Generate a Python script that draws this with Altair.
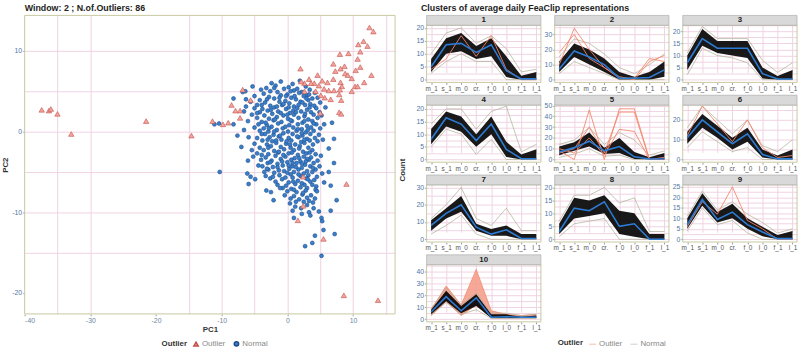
import altair as alt
import pandas as pd

# ---------------- data: PCA scatter ----------------
NORMAL_PTS = [
    (-1.0, 6.2), (0.8, 5.9), (-2.4, 6.0), (1.9, 6.3),
    (-5.3, 5.6), (-3.2, 5.4), (-1.8, 5.7), (0.2, 5.5), (1.5, 5.3), (2.8, 5.6),
    (-4.0, 5.2), (-2.6, 5.0), (-0.5, 5.3), (1.0, 5.1), (2.2, 4.9), (3.4, 5.2),
    (-6.8, 4.9), (-3.6, 4.7), (-1.5, 4.9), (0.0, 4.6), (1.8, 4.8), (3.0, 4.5), (4.2, 4.8),
    (-5.0, 4.4), (-2.8, 4.3), (-1.0, 4.5), (0.6, 4.2), (2.5, 4.4), (3.8, 4.1),
    (-8.2, 4.1), (-6.3, 4.0), (-4.2, 3.9), (-2.0, 4.1), (-0.3, 3.8), (1.3, 4.0), (3.2, 3.9), (4.6, 4.2),
    (-5.6, 3.7), (-3.4, 3.6), (-1.2, 3.7), (0.3, 3.5), (2.0, 3.7), (3.5, 3.4), (5.0, 3.6),
    (-6.3, 3.1), (-4.6, 3.3), (-2.6, 3.2), (-0.8, 3.3), (1.0, 3.1), (2.7, 3.3), (4.1, 3.2),
    (-5.0, 2.9), (-3.8, 2.8), (-2.0, 3.0), (-0.2, 2.8), (1.5, 2.9), (3.0, 2.7), (4.4, 2.9), (5.8, 3.0),
    (-6.6, 2.5), (-4.2, 2.4), (-3.0, 2.6), (-1.4, 2.5), (0.4, 2.3), (2.1, 2.5), (3.6, 2.4),
    (-5.4, 2.1), (-3.5, 2.0), (-2.3, 2.2), (-0.6, 2.0), (1.0, 2.1), (2.6, 1.9), (4.0, 2.1), (5.2, 2.0),
    (-4.6, 1.7), (-2.8, 1.6), (-1.6, 1.8), (0.1, 1.6), (1.7, 1.7), (3.2, 1.5), (4.6, 1.7),
    (-6.0, 1.3), (-3.9, 1.2), (-2.1, 1.4), (-0.9, 1.2), (0.7, 1.3), (2.3, 1.1), (3.8, 1.3),
    (-10.4, 1.0), (-11.1, 0.9), (-8.2, 0.9), (-4.4, 0.9), (-3.1, 0.8), (-1.4, 1.0), (0.3, 0.8),
    (1.6, 0.9), (3.0, 0.7), (4.4, 0.9), (6.8, 1.1),
    (-5.0, 0.5), (-3.6, 0.4), (-2.4, 0.6), (-0.7, 0.4), (0.9, 0.5), (2.2, 0.3), (3.6, 0.5), (5.0, 0.4),
    (-4.2, 0.1), (-2.9, 0.0), (-1.6, 0.2), (0.1, 0.0), (1.4, 0.1), (2.8, -0.1), (4.0, 0.1),
    (-5.9, -0.7), (-3.4, -0.3), (-2.1, -0.4), (-0.6, -0.2), (0.8, -0.3), (2.3, -0.5), (3.5, -0.3), (4.8, -0.4),
    (-4.6, -0.8), (-2.7, -0.7), (-1.3, -0.6), (0.2, -0.8), (1.7, -0.7), (3.0, -0.9), (7.1, -0.9),
    (-3.8, -1.1), (-2.3, -1.2), (-0.9, -1.0), (0.6, -1.1), (2.1, -1.3), (3.4, -1.1), (4.6, -1.2),
    (-5.0, -1.5), (-3.1, -1.6), (-1.7, -1.4), (-0.2, -1.5), (1.2, -1.6), (2.6, -1.4), (3.9, -1.6),
    (-7.0, -1.9), (-4.2, -2.0), (-2.5, -1.8), (-1.0, -1.9), (0.5, -2.0), (1.9, -1.8), (3.2, -2.0), (6.3, -2.1),
    (-3.6, -2.3), (-2.0, -2.4), (-0.5, -2.2), (1.0, -2.3), (2.4, -2.5), (3.8, -2.3),
    (-4.6, -2.7), (-2.9, -2.8), (-1.4, -2.6), (0.2, -2.7), (1.6, -2.9), (2.9, -2.7), (4.3, -2.8),
    (-5.2, -3.1), (-3.3, -3.2), (-1.8, -3.0), (-0.3, -3.1), (1.1, -3.3), (2.5, -3.1), (3.6, -3.2),
    (-4.0, -3.5), (-2.4, -3.6), (-1.0, -3.4), (0.6, -3.5), (2.0, -3.7), (3.3, -3.5), (4.6, -3.6),
    (-3.0, -3.9), (-1.5, -4.0), (0.0, -3.8), (1.4, -3.9), (2.7, -4.1), (4.0, -3.9), (7.1, -3.9),
    (-3.8, -4.3), (-2.2, -4.4), (-0.7, -4.2), (0.8, -4.3), (2.2, -4.5), (3.5, -4.3),
    (-2.9, -4.7), (-1.3, -4.8), (0.3, -4.6), (1.7, -4.7), (3.0, -4.9), (4.3, -4.7),
    (-10.3, -5.0), (-6.1, -5.2), (-3.5, -5.0), (-2.0, -5.1), (-0.5, -4.9), (1.0, -5.0), (2.5, -5.2),
    (3.8, -5.0), (6.3, -5.0),
    (-5.6, -5.6), (-3.3, -5.5), (-1.2, -5.4), (0.5, -5.3), (2.0, -5.5), (3.2, -5.4), (4.5, -5.6),
    (-2.6, -5.8), (-0.8, -5.9), (0.8, -5.7), (2.9, -5.8), (4.1, -6.0),
    (-5.9, -6.5), (-1.8, -6.2), (0.2, -6.3), (1.6, -6.1), (3.5, -6.2),
    (-1.5, -6.6), (-0.2, -6.7), (1.2, -6.5), (2.6, -6.6), (4.4, -6.8), (6.6, -6.7),
    (-0.7, -7.0), (0.6, -7.1), (2.0, -6.9), (3.0, -7.0), (4.3, -7.2),
    (-3.2, -7.3), (-2.5, -7.5), (0.0, -7.4), (1.4, -7.5), (2.8, -7.3), (4.5, -7.4),
    (-0.4, -7.9), (1.0, -8.0), (2.3, -7.8), (3.6, -7.9),
    (0.5, -8.3), (1.8, -8.4), (3.0, -8.2), (4.2, -8.3),
    (-2.1, -8.5), (2.5, -8.7), (3.9, -8.8), (7.5, -8.5),
    (0.4, -8.9), (1.2, -9.3), (3.0, -9.1),
    (0.8, -9.8), (3.3, -10.0), (4.8, -9.9), (6.6, -9.8),
    (2.2, -10.2), (3.5, -10.4), (1.0, -10.7), (5.2, -10.7), (5.3, -11.1),
    (5.5, -12.2), (4.2, -12.9), (7.2, -12.7), (3.8, -13.8), (2.7, -14.2), (5.2, -15.4),
    (-2.0, 5.4), (0.5, 5.0), (-1.2, 4.2), (1.1, 4.4), (2.9, 4.1), (-3.1, 4.0), (-0.6, 3.4),
    (1.7, 3.3), (3.4, 3.0), (-2.5, 2.7), (0.9, 2.6), (2.7, 2.2), (-1.0, 2.3), (-4.6, 2.3),
    (-1.9, 1.5), (0.5, 1.4), (2.6, 1.3), (4.0, 1.0), (-3.3, 1.1), (-0.3, 0.6), (1.6, 0.3),
    (3.1, 0.2), (-2.0, 0.0), (-3.9, -0.3), (-1.1, -0.5), (1.5, -0.6), (2.6, -1.0), (4.2, -0.8),
    (-3.0, -1.0), (-0.1, -1.2), (1.8, -2.1), (-2.9, -2.0), (-1.3, -2.5), (0.7, -2.6), (3.4, -2.6),
    (-3.9, -2.9), (-0.6, -2.9), (1.8, -3.3), (3.0, -3.4), (-2.6, -3.8), (0.8, -3.9), (2.2, -4.0),
    (-1.5, -4.4), (1.3, -4.4), (3.9, -4.5), (-3.1, -4.6), (0.0, -5.1), (1.7, -5.3), (3.1, -5.9),
    (-2.2, -5.6), (-0.3, -5.7), (2.2, -6.4), (0.9, -6.2), (3.8, -6.6), (-1.1, -7.0), (1.0, -7.2),
    (2.4, -7.6), (3.3, -8.6), (1.3, -8.7), (2.1, -9.5), (4.0, -9.5), (0.2, -4.2), (-0.8, -3.7),
    (2.8, -3.7), (-1.7, -1.1), (0.4, -1.6), (2.2, -0.2), (-2.8, 0.4), (0.0, 2.1), (1.3, 2.4),
    (-1.6, 3.1), (0.2, 3.0), (2.3, 3.6), (-0.2, 4.4), (3.3, 4.6), (-3.9, 3.3), (4.9, 2.4),
    (5.6, 0.9), (5.4, -1.0), (5.1, -3.0), (4.9, -4.3), (5.3, -5.2), (5.6, -6.3), (-5.4, -2.3),
    (-6.0, -3.6), (-4.4, -4.2), (-4.9, -5.9), (-7.6, -0.5), (-6.6, 0.2), (-6.4, 5.0),
]

OUTLIER_PTS = [
    (-37.4, 2.7), (-36.3, 2.6), (-36.0, 2.8), (-35.0, 2.2), (-32.9, -0.3), (-21.5, 1.3),
    (-14.6, -0.5), (-11.4, 1.3), (-9.8, 0.9), (-9.0, 1.1), (-7.2, 2.6), (-7.9, 2.6),
    (-8.5, 3.3), (-6.8, 5.2), (-7.2, 1.7), (-5.6, 3.9),
    (2.0, 7.8), (12.5, 12.9), (13.1, 12.4), (10.8, 10.8), (11.6, 11.2), (12.2, 10.6),
    (8.0, 9.6), (9.3, 9.7), (11.1, 9.9), (7.0, 8.4), (8.7, 8.1), (10.7, 9.0),
    (7.3, 7.5), (8.1, 7.8), (8.8, 7.2), (9.2, 7.0), (9.8, 6.6), (10.4, 7.6), (11.1, 8.0),
    (12.8, 7.0), (11.7, 6.1), (10.3, 5.6), (10.7, 5.6), (9.8, 5.0),
    (3.3, 6.5), (4.6, 7.0), (5.3, 6.3), (6.1, 6.1), (7.0, 6.5), (8.1, 6.1), (8.3, 5.6),
    (8.0, 5.2), (7.1, 5.1), (6.3, 5.1), (5.6, 5.3), (4.8, 5.7), (4.1, 6.0), (3.6, 6.0),
    (2.6, 5.0), (4.3, 5.0), (5.1, 4.5), (5.7, 4.2), (6.6, 4.0), (7.9, 4.6), (8.2, 3.9),
    (2.6, 6.0), (2.1, 6.2), (5.0, 2.3), (7.9, 2.4), (8.2, 2.2),
    (9.0, -6.5), (2.4, -5.6), (2.4, -9.2), (1.6, -11.0), (5.5, -13.3), (8.6, -20.3), (13.8, -20.9),
]

LEFT_TITLE = "Window:  2 ; N.of.Outliers:  86"
RIGHT_TITLE = "Clusters of average daily FeaClip representations"

# ---------------- data: cluster profiles ----------------
CATS = ["m_1", "s_1", "m_0", "cr.", "f_0", "l_0", "f_1", "l_1"]

CLUSTER_MEAN = {
    1: [5, 13.5, 14, 10.5, 13.5, 3.5, 0.3, 0.3],
    2: [7, 19, 15, 10, 1, 1, 1.5, 6.5],
    3: [7, 17, 13, 13, 13, 2.5, 0.3, 0.3],
    4: [8, 16.5, 14, 7.5, 14, 4, 0.3, 0.3],
    5: [7, 11, 17, 8, 12, 2.5, 0.5, 0.5],
    6: [11, 20, 14, 8, 13, 2.5, 0.3, 0.3],
    7: [8, 15, 20, 7, 3, 5.5, 0.5, 0.5],
    8: [3, 12, 11, 14.5, 5, 6, 0, 0],
    9: [7, 19, 9.5, 13, 7, 3.5, 0.3, 0.3],
    10: [6, 19, 7, 18, 1.5, 2, 1.5, 1.5],
}
BAND_LOW = {
    1: [3, 10, 11, 8, 9, 1, 0, 0],
    2: [5, 15, 10, 5, 0, 0, 0, 2],
    3: [4, 14, 11, 10, 9, 0.5, 0, 0],
    4: [6, 13, 11, 5, 10, 1, 0, 0],
    5: [4, 8, 12, 5, 6, 0.5, 0, 0],
    6: [8, 16, 11, 5, 9, 1, 0, 0],
    7: [5, 12, 16, 5, 2, 2, 0, 0],
    8: [2, 8, 9, 10, 2, 1, 0, 0],
    9: [5, 16, 8, 10, 5, 1.5, 0, 0],
    10: [4, 15, 5, 11, 1, 1, 1, 1],
}
BAND_HIGH = {
    1: [8, 16, 18, 13, 16, 9, 1.5, 3],
    2: [12, 24, 20, 14, 5, 2, 5, 12],
    3: [10, 21, 16, 16, 16, 5, 1.5, 4],
    4: [12, 19, 17, 10, 17, 7, 2, 4],
    5: [12, 16, 25, 11, 20, 7, 2, 6],
    6: [14, 23, 17, 11, 16, 5, 2, 5],
    7: [11, 18, 25, 9, 6, 8, 3, 3],
    8: [6, 16, 15, 17, 11, 10, 2, 2],
    9: [10, 22, 13, 17, 10, 6, 2, 4],
    10: [8, 24, 11, 21, 4, 4, 2, 3],
}
NORMAL_MIN = {
    1: [2.5, 7, 10, 7, 7, 0, 0, 0],
    2: [4, 12, 8, 4, 0, 0, 0, 0],
    3: [2, 13, 10, 9, 7, 0, 0, 0],
    4: [5, 12, 10, 2, 8, 0, 0, 0],
    5: [2, 5, 10, 3, 4, 0, 0, 0],
    6: [6, 14, 9, 4, 6, 0, 0, 0],
    7: [3, 8, 14, 3, 0, 0, 0, 0],
    8: [1, 6, 7, 8, 0, 0, 0, 0],
    9: [4, 15, 7, 9, 3, 0, 0, 0],
    10: [3, 14, 4, 8, 0.5, 0.5, 0.5, 0.5],
}
NORMAL_MAX = {
    1: [10, 18, 20, 14, 17, 12, 3, 4],
    2: [15, 27, 24, 17, 8, 4, 10, 17],
    3: [11, 22, 17, 17, 17, 8, 3, 7],
    4: [14, 20, 20, 12, 19, 21, 3, 6],
    5: [14, 18, 30, 14, 25, 18, 4, 8],
    6: [16, 27, 20, 13, 20, 7, 4, 10],
    7: [12, 20, 30, 12, 8, 18, 5, 5],
    8: [7, 17, 17, 20, 14, 16, 3, 3],
    9: [11, 23, 14, 18, 12, 8, 3, 5],
    10: [9, 26, 12, 22, 5, 5, 3, 4],
}
OUTLIER_LINES = [
    (1, [4, 8, 17, 9, 17, 4, 0, 0]),
    (2, [10, 34, 20, 8, 1, 1, 14, 12]),
    (2, [18, 30, 14, 8, 2, 0, 12, 16]),
    (5, [8, 0, 46, 0, 47, 47, 0, 0]),
    (5, [6, 10, 30, 6, 44, 44, 0, 0]),
    (5, [10, 6, 20, 4, 28, 26, 0, 2]),
    (6, [12, 27, 18, 9, 20, 6, 1, 2]),
    (9, [6, 18, 12, 25, 9, 5, 0, 0]),
]
OUTLIER_LOW_10 = [3, 15, 3, 12, 1, 1, 1, 1]
OUTLIER_HIGH_10 = [8, 28, 12, 42, 7, 4, 3, 4]

Y_TOP = {1: 21, 2: 36, 3: 22.5, 4: 21.5, 5: 50.5, 6: 27.5, 7: 31.5, 8: 21, 9: 26, 10: 46}
Y_STEP = {1: 5, 2: 10, 3: 5, 4: 5, 5: 10, 6: 10, 7: 10, 8: 5, 9: 5, 10: 10}

# ---------------- styles ----------------
FONT = "Liberation Sans"
PINK = "#f0d2e2"
BORDER = "#c8c8a2"
AXLAB = "#4f77a6"
XLAB = "#555555"
BLUE = "#2c7bd4"
GRAYLINE = "#a9ad94"
SALMON = "#f4876a"

# ---------------- left: scatter ----------------
norm_df = pd.DataFrame({"PC1": [p[0] for p in NORMAL_PTS], "PC2": [p[1] for p in NORMAL_PTS],
                        "Outlier": "Normal"})
out_df = pd.DataFrame({"PC1": [p[0] for p in OUTLIER_PTS], "PC2": [p[1] for p in OUTLIER_PTS],
                       "Outlier": "Outlier"})

LW, LH = 376, 303
dom = ["Outlier", "Normal"]
xs = alt.Scale(domain=[-40, 16.4], nice=False, zero=False)
ys = alt.Scale(domain=[-22.6, 14.4], nice=False, zero=False)
x_axis = alt.Axis(
    title="PC1", values=list(range(-40, 20, 5)),
    labelExpr="datum.value % 10 == 0 ? '' + datum.value : ''",
    gridColor=PINK,
    gridOpacity={"condition": {"test": "datum.value == -40 || datum.value == -25 || datum.value == -20", "value": 0}, "value": 1},
    tickOpacity={"condition": {"test": "datum.value % 10 != 0", "value": 0}, "value": 1},
    domain=False, tickSize=2, tickColor="#9aa", labelColor="#6f86a0", labelFontSize=7,
    labelPadding=1, titleFontSize=8, titleFontWeight="bold", titleColor="#333", titlePadding=2,
)
y_axis = alt.Axis(
    title="PC2", values=list(range(-20, 15, 5)),
    labelExpr="datum.value % 10 == 0 ? '' + datum.value : ''",
    gridColor=PINK,
    gridOpacity={"condition": {"test": "datum.value == -20", "value": 0}, "value": 1},
    tickOpacity={"condition": {"test": "datum.value % 10 != 0", "value": 0}, "value": 1},
    domain=False, tickSize=2, tickColor="#9aa", labelColor=AXLAB, labelFontSize=7,
    labelPadding=1, titleFontSize=8, titleFontWeight="bold", titleColor="#333", titlePadding=2,
)
# legends live at the top level; legendX/Y are relative to the scatter's plot origin
leg = alt.Legend(title="Outlier", orient="none", legendX=139, legendY=329, direction="horizontal",
                 titleOrient="left", titleFontSize=8, titleFontWeight="bold", titleColor="#333",
                 labelFontSize=8, labelColor="#888", symbolSize=20, columnPadding=5, labelOffset=2,
                 titlePadding=5)
enc = dict(
    x=alt.X("PC1:Q", scale=xs, axis=x_axis),
    y=alt.Y("PC2:Q", scale=ys, axis=y_axis),
    shape=alt.Shape("Outlier:N", scale=alt.Scale(domain=dom, range=["triangle-up", "circle"]), legend=leg),
    fill=alt.Fill("Outlier:N", scale=alt.Scale(domain=dom, range=["#f4a39c", "#3a7fcc"]), legend=leg),
    stroke=alt.Stroke("Outlier:N", scale=alt.Scale(domain=dom, range=["#c0504a", "#1d4c8a"]), legend=leg),
)
left_border = alt.Chart(alt.Data(values=[{"b": 1}])).mark_rect(
    fillOpacity=0, stroke=BORDER, strokeWidth=1
).encode(x=alt.value(0), x2=alt.value(LW), y=alt.value(0), y2=alt.value(LH))
normal_layer = alt.Chart(norm_df).mark_point(filled=True, size=16, strokeWidth=0.6, opacity=1).encode(**enc)
outlier_layer = alt.Chart(out_df).mark_point(filled=True, size=30, strokeWidth=0.6, opacity=1).encode(**enc)
count_text = alt.Chart(alt.Data(values=[{"t": "Count"}])).mark_text(
    angle=270, fontSize=8, fontWeight="bold", color="#333", font=FONT
).encode(text="t:N", x=alt.value(LW + 8), y=alt.value(157))
left_title = alt.Chart(alt.Data(values=[{"t": LEFT_TITLE}])).mark_text(
    align="left", baseline="middle", fontSize=9, fontWeight="bold", color="#222", font=FONT
).encode(text="t:N", x=alt.value(0), y=alt.value(-7))

left = alt.layer(left_border, normal_layer, outlier_layer, count_text, left_title).properties(
    width=LW, height=LH)

# ---------------- right: cluster panels ----------------
def long_rows(cluster, name, values, status):
    return [{"cluster": cluster, "line": name, "cat": c, "value": v, "status": status}
            for c, v in zip(CATS, values)]

PW, PH, SH = 116, 58, 10   # plot width, plot height, strip height
TH = PH + SH


def make_panel(k):
    step = Y_STEP[k]
    top = Y_TOP[k]
    half = step / 2
    grid_vals = [i * half for i in range(int(top // half) + 1)]
    x = alt.X("cat:N", sort=CATS, scale=alt.Scale(domain=CATS, type="point", padding=0.3),
              axis=alt.Axis(title=None, labelAngle=0, labelFontSize=6.5, labelColor=XLAB, labelPadding=1,
                            tickSize=2, tickColor="#999", grid=True, gridColor=PINK, domain=False))
    yscale = alt.Scale(domain=[-top * 0.05, top], nice=False, zero=False, range=[TH, SH])
    yaxis = alt.Axis(title=None, values=grid_vals,
                     labelExpr=f"datum.value % {step} == 0 ? '' + datum.value : ''",
                     tickOpacity={"condition": {"test": f"datum.value % {step} != 0", "value": 0}, "value": 1},
                     labelFontSize=7, labelColor=AXLAB, labelPadding=1, tickSize=2, tickColor="#999",
                     grid=True, gridColor=PINK, domain=False)

    band_df = pd.DataFrame({"cat": CATS, "lo": BAND_LOW[k], "hi": BAND_HIGH[k]})
    mean_df = pd.DataFrame(long_rows(k, "mean", CLUSTER_MEAN[k], "Mean"))
    norm_lines = pd.DataFrame(long_rows(k, "min", NORMAL_MIN[k], "Normal lines") +
                              long_rows(k, "max", NORMAL_MAX[k], "Normal lines"))
    out_rows = []
    for i, (c, vals) in enumerate(OUTLIER_LINES):
        if c == k:
            out_rows += long_rows(k, f"o{i}", vals, "Outlier lines")

    layers = []
    color_enc = None
    if k == 10:
        color_enc = alt.Color(
            "status:N", scale=alt.Scale(domain=["Outlier lines", "Normal lines"], range=[SALMON, GRAYLINE]),
            legend=alt.Legend(title="Outlier", orient="none", legendX=541, legendY=329,
                              direction="horizontal", titleOrient="left", symbolType="stroke",
                              symbolStrokeWidth=1.2, symbolSize=50, symbolOpacity=0.45,
                              labelExpr="replace(datum.label, ' lines', '')",
                              labelFontSize=8, labelColor="#888", titleFontSize=8,
                              titleFontWeight="bold", titleColor="#333", columnPadding=5,
                              labelOffset=2, titlePadding=5))
        ob = pd.DataFrame({"cat": CATS, "lo": OUTLIER_LOW_10, "hi": OUTLIER_HIGH_10})
        layers.append(alt.Chart(ob).mark_area(color="#f59a86", opacity=0.85).encode(
            x=x, y=alt.Y("lo:Q", scale=yscale, axis=yaxis), y2="hi:Q"))
        ol = pd.DataFrame(long_rows(k, "olo", OUTLIER_LOW_10, "Outlier lines") +
                          long_rows(k, "ohi", OUTLIER_HIGH_10, "Outlier lines"))
        layers.append(alt.Chart(ol).mark_line(strokeWidth=0.8).encode(
            x=x, y=alt.Y("value:Q", scale=yscale, axis=yaxis), detail="line:N", color=color_enc))

    layers.append(alt.Chart(band_df).mark_area(color="black", opacity=0.9).encode(
        x=x, y=alt.Y("lo:Q", scale=yscale, axis=yaxis), y2="hi:Q"))
    if k == 10:
        layers.append(alt.Chart(norm_lines).mark_line(strokeWidth=0.7).encode(
            x=x, y=alt.Y("value:Q", scale=yscale, axis=yaxis), detail="line:N", color=color_enc))
    else:
        layers.append(alt.Chart(norm_lines).mark_line(strokeWidth=0.7, color=GRAYLINE).encode(
            x=x, y=alt.Y("value:Q", scale=yscale, axis=yaxis), detail="line:N"))
        if out_rows:
            layers.append(alt.Chart(pd.DataFrame(out_rows)).mark_line(strokeWidth=0.9, color=SALMON).encode(
                x=x, y=alt.Y("value:Q", scale=yscale, axis=yaxis), detail="line:N"))
    layers.append(alt.Chart(mean_df).mark_line(strokeWidth=1.6, color=BLUE).encode(
        x=x, y=alt.Y("value:Q", scale=yscale, axis=yaxis)))

    lab = alt.Data(values=[{"label": str(k)}])
    layers.append(alt.Chart(lab).mark_rect(fillOpacity=0, stroke=BORDER, strokeWidth=1).encode(
        x=alt.value(0), x2=alt.value(PW), y=alt.value(SH), y2=alt.value(TH)))
    layers.append(alt.Chart(lab).mark_rect(fill="#d9d9d9", stroke="#a3a3a3", strokeWidth=0.6).encode(
        x=alt.value(0), x2=alt.value(PW), y=alt.value(0), y2=alt.value(SH)))
    layers.append(alt.Chart(lab).mark_text(fontSize=8, fontWeight="bold", color="#222", font=FONT).encode(
        text="label:N", x=alt.value(PW / 2), y=alt.value(SH / 2)))
    return alt.layer(*layers).properties(width=PW, height=TH)


panels = [make_panel(k) for k in range(1, 11)]
right = alt.concat(*panels, columns=3, spacing={"row": 2, "column": 2}).properties(
    title=alt.Title(RIGHT_TITLE, anchor="start", fontSize=9, fontWeight="bold", offset=2, dx=5,
                    color="#222", font=FONT)
)

chart = alt.hconcat(left, right, spacing=9).configure(
    font=FONT, padding={"left": 1, "top": 1, "right": 2, "bottom": 0}
).configure_view(stroke=None)

chart.save("out.html", embed_options={"renderer": "svg", "actions": False})
